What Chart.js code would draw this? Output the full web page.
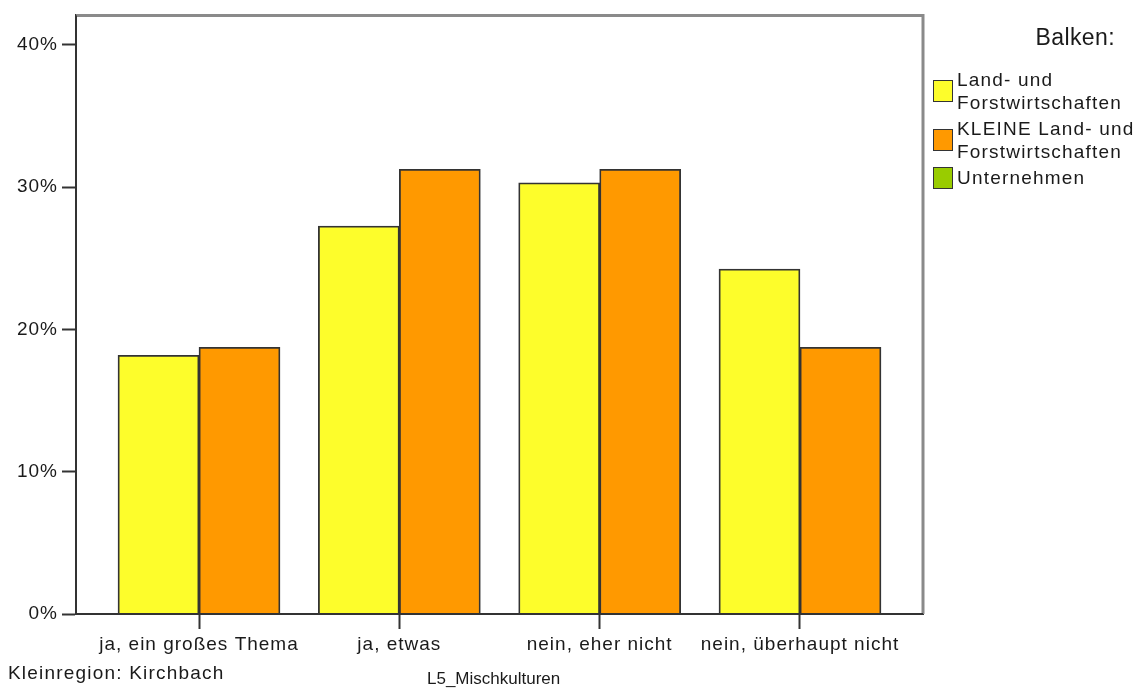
<!DOCTYPE html>
<html>
<head>
<meta charset="utf-8">
<script src="https://cdn.jsdelivr.net/npm/chart.js@4/dist/chart.umd.min.js"></script>
<style>
  html, body { margin: 0; padding: 0; background: #fff; }
  #wrap { position: relative; width: 1137px; height: 691px; font-family: "Liberation Sans", Arial, sans-serif; color: #1a1a1a; }
  #chart { position: absolute; left: 0; top: 0; }
  #legendTitle { position: absolute; right: 22px; top: 24px; font-size: 23px; letter-spacing: 0.4px; }
  #legend { position: absolute; left: 933px; top: 68px; font-size: 19px; letter-spacing: 1.2px; white-space: nowrap; }
  .item { display: flex; align-items: center; margin-bottom: 3px; line-height: 23px; }
  .sw { width: 18px; height: 20px; border: 1.8px solid #333; margin-right: 4px; flex: none; }
  .foot { position: absolute; white-space: nowrap; }
  #region { left: 8px; top: 662px; font-size: 19px; letter-spacing: 1.2px; }
  #varname { left: 427px; top: 669px; font-size: 17px; }
</style>
</head>
<body>
<div id="wrap">
  <canvas id="chart" width="1137" height="691"></canvas>
  <div id="legendTitle">Balken:</div>
  <div id="legend"></div>
  <div class="foot" id="region">Kleinregion: Kirchbach</div>
  <div class="foot" id="varname">L5_Mischkulturen</div>
</div>
<script>
// Data
const categories = ["ja, ein großes Thema", "ja, etwas", "nein, eher nicht", "nein, überhaupt nicht"];
const landForst = [18.18, 27.27, 30.30, 24.24];
const kleineLandForst = [18.75, 31.25, 31.25, 18.75];
const seriesNames = [["Land- und", "Forstwirtschaften"], ["KLEINE Land- und", "Forstwirtschaften"], ["Unternehmen"]];
const seriesColors = ["#fdfd2b", "#ff9900", "#99cc00"];
const yTicks = [0, 10, 20, 30, 40];

// HTML legend
document.getElementById("legend").innerHTML = seriesNames.map((name, i) =>
  `<div class="item"><div class="sw" style="background:${seriesColors[i]}"></div><div>${name.join("<br>")}</div></div>`
).join("");

const toPoints = arr => arr.map((v, i) => ({ x: i, y: v }));

// letter spacing for canvas text + the grey frame on top / right
const framePlugin = {
  id: 'frame',
  beforeUpdate(chart) { chart.ctx.letterSpacing = '1px'; },
  beforeDraw(chart) { chart.ctx.letterSpacing = '1px'; },
  afterDraw(chart) {
    const { ctx, chartArea: a } = chart;
    ctx.save();
    ctx.strokeStyle = '#8a8a8a';
    ctx.lineWidth = 3;
    ctx.beginPath();
    ctx.moveTo(a.left, a.top);
    ctx.lineTo(a.right, a.top);
    ctx.lineTo(a.right, a.bottom);
    ctx.stroke();
    ctx.strokeStyle = '#333';
    ctx.lineWidth = 2;
    ctx.beginPath();
    ctx.moveTo(a.left, a.top);
    ctx.lineTo(a.left, a.bottom);
    ctx.lineTo(a.right, a.bottom);
    ctx.stroke();
    ctx.restore();
  }
};

new Chart(document.getElementById('chart'), {
  type: 'bar',
  data: {
    datasets: [
      { label: seriesNames[0].join(" "), data: toPoints(landForst), backgroundColor: seriesColors[0] },
      { label: seriesNames[1].join(" "), data: toPoints(kleineLandForst), backgroundColor: seriesColors[1] }
    ]
  },
  options: {
    responsive: false,
    animation: false,
    events: [],
    layout: { padding: { left: 0, top: 12, right: 214, bottom: 0 } },
    datasets: {
      bar: { barThickness: 81, borderWidth: 1.8, borderColor: '#333' }
    },
    plugins: { legend: { display: false }, tooltip: { enabled: false } },
    scales: {
      x: {
        type: 'linear',
        offset: false,
        min: -0.614,
        max: 3.614,
        afterBuildTicks: s => { s.ticks = categories.map((c, i) => ({ value: i })); },
        afterFit: s => { s.height = 77; },
        border: { color: '#333', width: 2 },
        grid: { offset: false, drawOnChartArea: false, tickLength: 15, color: '#333', tickWidth: 2 },
        ticks: {
          padding: 4,
          maxRotation: 0,
          autoSkip: false,
          color: '#1a1a1a',
          font: { family: '"Liberation Sans", Arial, sans-serif', size: 19 },
          callback: v => categories[v]
        }
      },
      y: {
        min: 0,
        max: 42.07,
        afterBuildTicks: s => { s.ticks = yTicks.map(v => ({ value: v })); },
        afterFit: s => { s.width = 76; },
        border: { color: '#333', width: 2 },
        grid: { drawOnChartArea: false, tickLength: 14, color: '#333', tickWidth: 2 },
        ticks: {
          padding: 4,
          color: '#1a1a1a',
          font: { family: '"Liberation Sans", Arial, sans-serif', size: 19 },
          callback: v => v + '%'
        }
      }
    }
  },
  plugins: [framePlugin]
});
</script>
</body>
</html>
